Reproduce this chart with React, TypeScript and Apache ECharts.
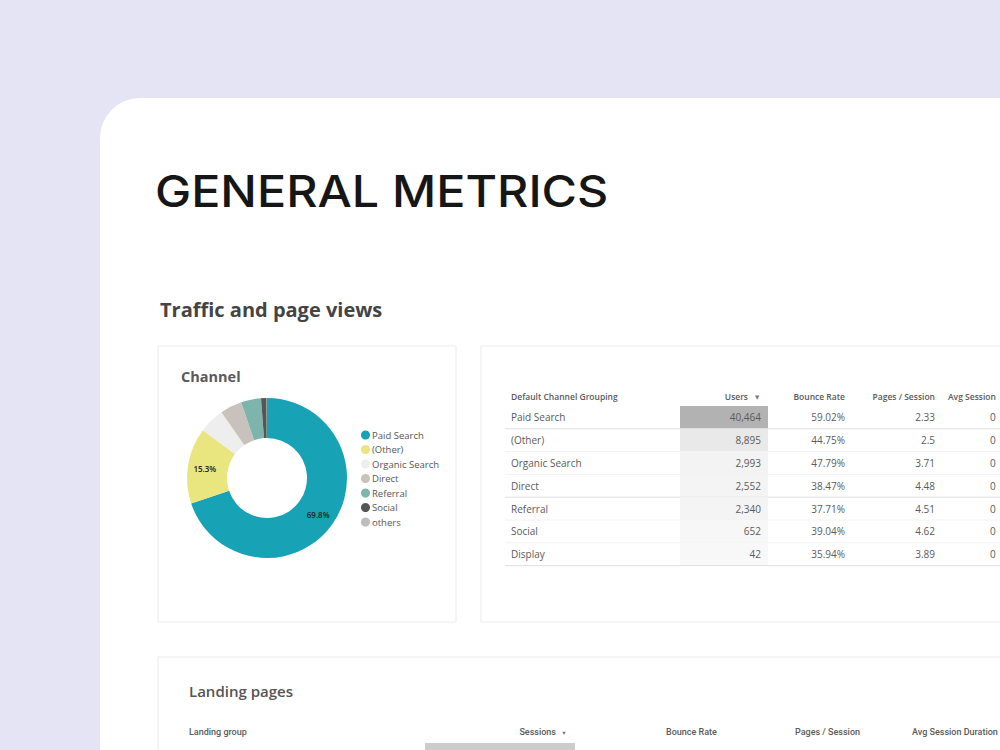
import React, { useEffect, useRef } from "react";
import * as echarts from "echarts";

// ---- data ----
const channels = ["Paid Search", "(Other)", "Organic Search", "Direct", "Referral", "Social", "Display"];
const users = [40464, 8895, 2993, 2552, 2340, 652, 42];
const bounceRate = [59.02, 44.75, 47.79, 38.47, 37.71, 39.04, 35.94];
const pagesPerSession = ["2.33", "2.5", "3.71", "4.48", "4.51", "4.62", "3.89"];
const avgSessionVisible = ["0", "0", "0", "0", "0", "0", "0"];
const legendNames = ["Paid Search", "(Other)", "Organic Search", "Direct", "Referral", "Social", "others"];
const sliceColors = ["#17a3b5", "#e9e67f", "#eeeeee", "#c9c1bc", "#7db4ab", "#555555", "#bdbdbd"];
const channelHeaders = ["Default Channel Grouping", "Users", "Bounce Rate", "Pages / Session", "Avg Session"];
const landingHeaders = ["Landing group", "Sessions", "Bounce Rate", "Pages / Session", "Avg Session Duration"];
const pageTitle = "GENERAL METRICS";
const sectionTitle = "Traffic and page views";
const donutTitle = "Channel";
const landingTitle = "Landing pages";

const TXT = "#5a5a5a";
const TFONT = "'Open Sans', 'DejaVu Sans', sans-serif";

function heat(v: number, max: number) {
  const c = Math.round(248 - (248 - 178) * (v / max));
  return `rgb(${c},${c},${c})`;
}

function buildGraphics() {
  const g: any[] = [];
  // background card
  g.push({ type: "rect", shape: { x: 0, y: 0, width: 1000, height: 750 }, style: { fill: "#e5e4f4" }, silent: true });
  g.push({ type: "rect", shape: { x: 100, y: 98, width: 1000, height: 800, r: [40, 0, 0, 0] }, style: { fill: "#ffffff" }, silent: true });
  // titles
  g.push({
    type: "text",
    x: 155,
    y: 191,
    scaleX: 1.1,
    style: { text: pageTitle, x: 0, y: 0, fill: "#161616", fontSize: 44, fontFamily: "Inter, 'DejaVu Sans', sans-serif", fontWeight: 500, align: "left", verticalAlign: "middle" },
  });
  g.push({ type: "text", style: { text: sectionTitle, x: 160, y: 309, fill: "#444444", fontSize: 20, fontFamily: TFONT, fontWeight: 700, align: "left", verticalAlign: "middle" } });
  // panels
  const panelStroke = "#ebebeb";
  g.push({ type: "rect", shape: { x: 158, y: 346, width: 298, height: 276 }, style: { fill: "none", stroke: panelStroke, lineWidth: 1 } });
  g.push({ type: "rect", shape: { x: 481, y: 346, width: 600, height: 276 }, style: { fill: "none", stroke: panelStroke, lineWidth: 1 } });
  g.push({ type: "rect", shape: { x: 158, y: 657, width: 900, height: 200 }, style: { fill: "none", stroke: panelStroke, lineWidth: 1 } });
  g.push({ type: "text", style: { text: donutTitle, x: 181, y: 376, fill: "#5a5a5a", fontSize: 14.5, fontFamily: TFONT, fontWeight: 700, align: "left", verticalAlign: "middle" } });

  // channel table
  const colRight = [0, 761, 845, 935];
  const headerY = 396;
  g.push({ type: "text", style: { text: channelHeaders[0], x: 511, y: headerY, fill: TXT, fontSize: 8.5, fontFamily: TFONT, fontWeight: 600, align: "left", verticalAlign: "middle" } });
  g.push({ type: "text", style: { text: channelHeaders[1], x: 748, y: headerY, fill: TXT, fontSize: 8.5, fontFamily: TFONT, fontWeight: 600, align: "right", verticalAlign: "middle" } });
  g.push({ type: "text", style: { text: "▼", x: 757, y: headerY + 0.5, fill: "#777", fontSize: 5.5, fontFamily: TFONT, align: "center", verticalAlign: "middle" } });
  g.push({ type: "text", style: { text: channelHeaders[2], x: colRight[2], y: headerY, fill: TXT, fontSize: 8.5, fontFamily: TFONT, fontWeight: 600, align: "right", verticalAlign: "middle" } });
  g.push({ type: "text", style: { text: channelHeaders[3], x: colRight[3], y: headerY, fill: TXT, fontSize: 8.5, fontFamily: TFONT, fontWeight: 600, align: "right", verticalAlign: "middle" } });
  g.push({ type: "text", style: { text: channelHeaders[4], x: 948, y: headerY, fill: TXT, fontSize: 8.5, fontFamily: TFONT, fontWeight: 600, align: "left", verticalAlign: "middle" } });

  const rowTop = 406;
  const rowH = 22.8;
  const maxU = Math.max(...users);
  channels.forEach((name, i) => {
    const y0 = rowTop + i * rowH;
    const cy = y0 + rowH / 2;
    g.push({ type: "rect", shape: { x: 680, y: y0, width: 88, height: rowH }, style: { fill: heat(users[i], maxU) } });
    g.push({ type: "text", style: { text: name, x: 511, y: cy, fill: TXT, fontSize: 10, fontFamily: TFONT, align: "left", verticalAlign: "middle" } });
    g.push({ type: "text", style: { text: users[i].toLocaleString("en-US"), x: colRight[1], y: cy, fill: TXT, fontSize: 10, fontFamily: TFONT, align: "right", verticalAlign: "middle" } });
    g.push({ type: "text", style: { text: bounceRate[i].toFixed(2) + "%", x: colRight[2], y: cy, fill: TXT, fontSize: 10, fontFamily: TFONT, align: "right", verticalAlign: "middle" } });
    g.push({ type: "text", style: { text: pagesPerSession[i], x: colRight[3], y: cy, fill: TXT, fontSize: 10, fontFamily: TFONT, align: "right", verticalAlign: "middle" } });
    g.push({ type: "text", style: { text: avgSessionVisible[i], x: 990, y: cy, fill: TXT, fontSize: 10, fontFamily: TFONT, align: "left", verticalAlign: "middle" } });
    const strong = i === 0 || i === 3 || i === channels.length - 1;
    g.push({ type: "line", shape: { x1: 505, y1: y0 + rowH, x2: 1000, y2: y0 + rowH }, style: { stroke: strong ? "#e0e0e0" : "#f2f2f2", lineWidth: 1 } });
  });

  // landing pages
  g.push({ type: "text", style: { text: landingTitle, x: 189, y: 691, fill: "#555", fontSize: 15, fontFamily: TFONT, fontWeight: 600, align: "left", verticalAlign: "middle" } });
  const lhY = 732;
  const lf = "Roboto, sans-serif";
  g.push({ type: "text", style: { text: landingHeaders[0], x: 189, y: lhY, fill: TXT, fontSize: 9, fontFamily: lf, fontWeight: 500, align: "left", verticalAlign: "middle" } });
  g.push({ type: "text", style: { text: landingHeaders[1], x: 556, y: lhY, fill: TXT, fontSize: 9, fontFamily: lf, fontWeight: 500, align: "right", verticalAlign: "middle" } });
  g.push({ type: "text", style: { text: "▼", x: 564, y: lhY + 0.5, fill: "#777", fontSize: 5.5, fontFamily: lf, align: "center", verticalAlign: "middle" } });
  g.push({ type: "text", style: { text: landingHeaders[2], x: 666, y: lhY, fill: TXT, fontSize: 9, fontFamily: lf, fontWeight: 500, align: "left", verticalAlign: "middle" } });
  g.push({ type: "text", style: { text: landingHeaders[3], x: 795, y: lhY, fill: TXT, fontSize: 9, fontFamily: lf, fontWeight: 500, align: "left", verticalAlign: "middle" } });
  g.push({ type: "text", style: { text: landingHeaders[4], x: 912, y: lhY, fill: TXT, fontSize: 9, fontFamily: lf, fontWeight: 500, align: "left", verticalAlign: "middle" } });
  g.push({ type: "rect", shape: { x: 425, y: 743, width: 150, height: 20 }, style: { fill: "#cccccc" } });
  return g;
}

export default function App() {
  const ref = useRef<HTMLDivElement>(null);
  useEffect(() => {
    if (!ref.current) return;
    const chart = echarts.init(ref.current, null, { renderer: "svg" });
    const total = users.reduce((a, b) => a + b, 0);
    chart.setOption({
      animation: false,
      graphic: { elements: buildGraphics() },
      legend: {
        orient: "vertical",
        left: 356,
        top: 425,
        icon: "circle",
        itemWidth: 9,
        itemHeight: 9,
        itemGap: 4.5,
        data: legendNames,
        textStyle: { fontSize: 9.5, color: "#555", fontFamily: TFONT, padding: [0, 0, 0, -3], lineHeight: 10 },
        selectedMode: false,
      },
      series: [
        {
          type: "pie",
          center: [267, 478],
          radius: [40, 80],
          startAngle: 90,
          clockwise: true,
          avoidLabelOverlap: false,
          silent: true,
          z: 10,
          label: {
            show: true,
            position: "inside",
            fontSize: 8,
            color: "#222",
            fontFamily: TFONT,
            fontWeight: 600,
            formatter: (p: any) => {
              const share = p.value / total;
              return share >= 0.1 ? (Math.floor(share * 1000) / 10).toFixed(1) + "%" : "";
            },
          },
          labelLine: { show: false },
          itemStyle: { borderWidth: 0 },
          data: legendNames.map((n, i) => ({ name: n, value: users[i], itemStyle: { color: sliceColors[i] } })),
        },
      ],
    });
    return () => chart.dispose();
  }, []);
  return <div ref={ref} style={{ position: "absolute", left: 0, top: 0, width: 1000, height: 750, overflow: "hidden" }} />;
}
